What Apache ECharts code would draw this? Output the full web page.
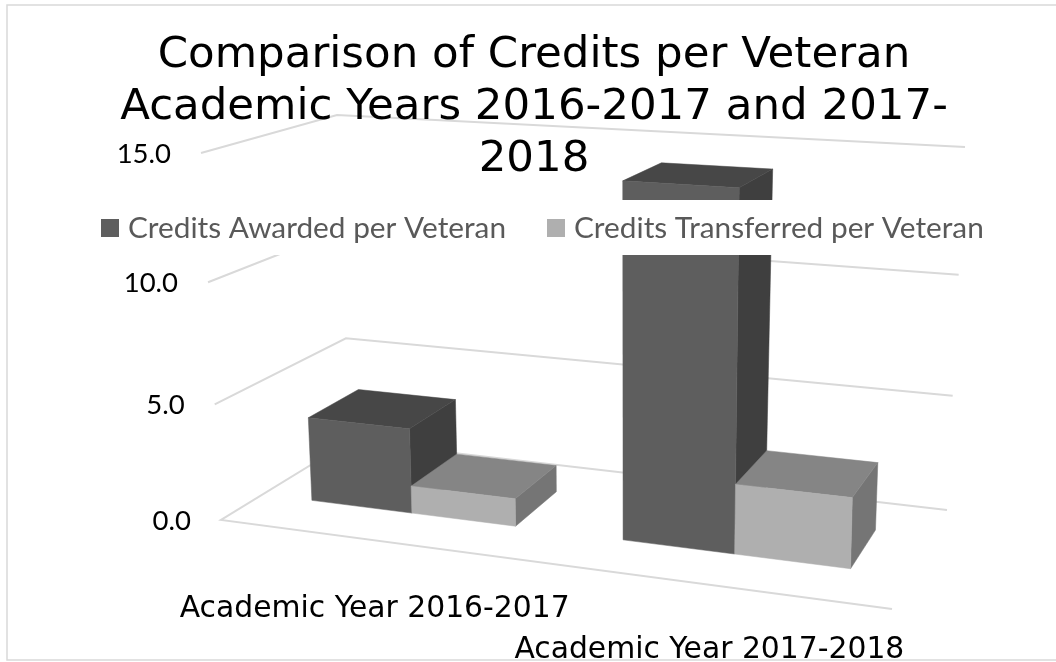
<!DOCTYPE html>
<html>
<head>
<meta charset="utf-8">
<style>html,body{margin:0;padding:0;background:#fff}#main{width:1056px;height:662px}</style>
<script src="https://cdn.jsdelivr.net/npm/echarts@6/dist/echarts.min.js"></script>
</head>
<body>
<div id="main"></div>
<script>
// data
var categories = ['Academic Year 2016-2017', 'Academic Year 2017-2018'];
var awarded = [3.7, 14.3];
var transferred = [1.2, 2.9];
var yTicks = [0, 5, 10, 15];
var seriesNames = ['Credits Awarded per Veteran', 'Credits Transferred per Veteran'];
var titleText = 'Comparison of Credits per Veteran\nAcademic Years 2016-2017 and 2017-\n2018';

// corners of the 3d box on screen: front-left, front-right, back-right, back-left
var floorQuad = [[221, 520], [892, 609], [947, 510], [350, 441]];
var ceilQuad = [[201, 153], [902, 194], [965, 147], [337, 115]];
var topW = 0.92;     // perspective along the value axis
var depthFront = 0.3, depthBack = 0.7;  // bar depth inside the floor

// unit square -> quad
function homography(q) {
  var dx1 = q[1][0] - q[2][0], dx2 = q[3][0] - q[2][0], sx = q[0][0] - q[1][0] + q[2][0] - q[3][0];
  var dy1 = q[1][1] - q[2][1], dy2 = q[3][1] - q[2][1], sy = q[0][1] - q[1][1] + q[2][1] - q[3][1];
  var det = dx1 * dy2 - dx2 * dy1;
  var g = (sx * dy2 - dx2 * sy) / det, h = (dx1 * sy - sx * dy1) / det;
  var a = q[1][0] - q[0][0] + g * q[1][0], b = q[3][0] - q[0][0] + h * q[3][0];
  var d = q[1][1] - q[0][1] + g * q[1][1], e = q[3][1] - q[0][1] + h * q[3][1];
  return function (u, v) {
    var w = g * u + h * v + 1;
    return [(a * u + b * v + q[0][0]) / w, (d * u + e * v + q[0][1]) / w];
  };
}
var floorH = homography(floorQuad), ceilH = homography(ceilQuad);

// u across, v into the page, t up (all 0..1)
function project3d(u, v, t) {
  var s = t * topW / (1 - t + t * topW);
  var p0 = floorH(u, v), p1 = ceilH(u, v);
  return [p0[0] + (p1[0] - p0[0]) * s, p0[1] + (p1[1] - p0[1]) * s];
}

// grid pixel -> normalized box coords, so scales stay with the hidden axes
function toBox(params, pt) {
  var c = params.coordSys;
  return [(pt[0] - c.x) / c.width, (c.y + c.height - pt[1]) / c.height];
}

function poly(points, color) {
  return {
    type: 'polygon',
    shape: { points: points },
    style: { fill: color, stroke: color, lineWidth: 0.5 }
  };
}

function barRender(side, faces) {
  return function (params, api) {
    var pt = toBox(params, api.coord([api.value(0), api.value(1)]));
    var base = toBox(params, api.coord([api.value(0), 0]));
    var band = api.size([1, 0])[0] / params.coordSys.width;
    var barW = band / 3;
    var u0 = side === 0 ? base[0] - barW : base[0];
    var u1 = u0 + barW;
    var t = pt[1];
    var a = project3d(u0, depthFront, 0), b = project3d(u1, depthFront, 0), c = project3d(u1, depthBack, 0);
    var e = project3d(u0, depthFront, t), f = project3d(u1, depthFront, t), g = project3d(u1, depthBack, t), h = project3d(u0, depthBack, t);
    return {
      type: 'group',
      children: [
        poly([b, c, g, f], faces.side),
        poly([e, f, g, h], faces.top),
        poly([a, b, f, e], faces.front)
      ]
    };
  };
}

var chart = echarts.init(document.getElementById('main'));
chart.setOption({
  animation: false,
  backgroundColor: '#fff',
  graphic: [{
    type: 'rect', silent: true, z: -1,
    shape: { x: 7, y: 5, width: 1060, height: 655 },
    style: { fill: 'none', stroke: '#d9d9d9', lineWidth: 1.5 }
  }],
  title: {
    text: titleText,
    left: 529,
    top: 25,
    textAlign: 'center',
    textStyle: { fontFamily: 'DejaVu Sans', fontWeight: 'normal', fontSize: 43.5, lineHeight: 52, color: '#000' }
  },
  legend: {
    data: seriesNames,
    left: 91,
    top: 200,
    padding: [13, 62, 12, 10],
    backgroundColor: '#fff',
    icon: 'rect',
    itemWidth: 18,
    itemHeight: 18,
    itemGap: 41,
    textStyle: { fontFamily: 'Lato', fontSize: 29.8, lineHeight: 18, color: '#595959', padding: [0, 0, 0, 4] }
  },
  grid: { left: 100, top: 100, width: 800, height: 400, show: false },
  xAxis: { type: 'category', data: categories, show: false },
  yAxis: { type: 'value', min: 0, max: 15, interval: 5, show: false },
  series: [
    {
      // gridlines and value labels
      type: 'custom', silent: true, z: 1,
      data: yTicks.map(function (v) { return [0, v]; }),
      renderItem: function (params, api) {
        var tick = api.value(1);
        var t = toBox(params, api.coord([0, tick]))[1];
        var fl = project3d(0, 0, t), bl = project3d(0, 1, t), br = project3d(1, 1, t);
        var pts = tick === 0 ? [project3d(1, 0, 0), fl, bl, br] : [fl, bl, br];
        return {
          type: 'group',
          children: [
            { type: 'polyline', shape: { points: pts }, style: { stroke: '#d9d9d9', lineWidth: 2, fill: 'none' } },
            {
              type: 'text',
              style: {
                x: fl[0] - 30, y: fl[1] + 1, text: tick.toFixed(1), align: 'right', verticalAlign: 'middle',
                font: '27.5px Lato', fill: '#000'
              }
            }
          ]
        };
      }
    },
    {
      name: seriesNames[0], type: 'custom', z: 2,
      itemStyle: { color: '#5e5e5e' },
      data: awarded.map(function (v, i) { return [i, v]; }),
      renderItem: barRender(0, { front: '#5e5e5e', top: '#474747', side: '#3f3f3f' })
    },
    {
      name: seriesNames[1], type: 'custom', z: 2,
      itemStyle: { color: '#afafaf' },
      data: transferred.map(function (v, i) { return [i, v]; }),
      renderItem: barRender(1, { front: '#afafaf', top: '#858585', side: '#757575' })
    },
    {
      // category labels under the front edge of the floor
      type: 'custom', silent: true, z: 3,
      data: categories.map(function (c, i) { return [i, 0]; }),
      renderItem: function (params, api) {
        var b = toBox(params, api.coord([api.value(0), 0]));
        var p = project3d(b[0], 0, 0);
        return {
          type: 'text',
          style: {
            x: p[0], y: p[1] + 71 - 8 * b[0], text: categories[api.value(0)], align: 'center', verticalAlign: 'middle',
            font: '29.8px "DejaVu Sans"', fill: '#000'
          }
        };
      }
    }
  ]
});
</script>
</body>
</html>
